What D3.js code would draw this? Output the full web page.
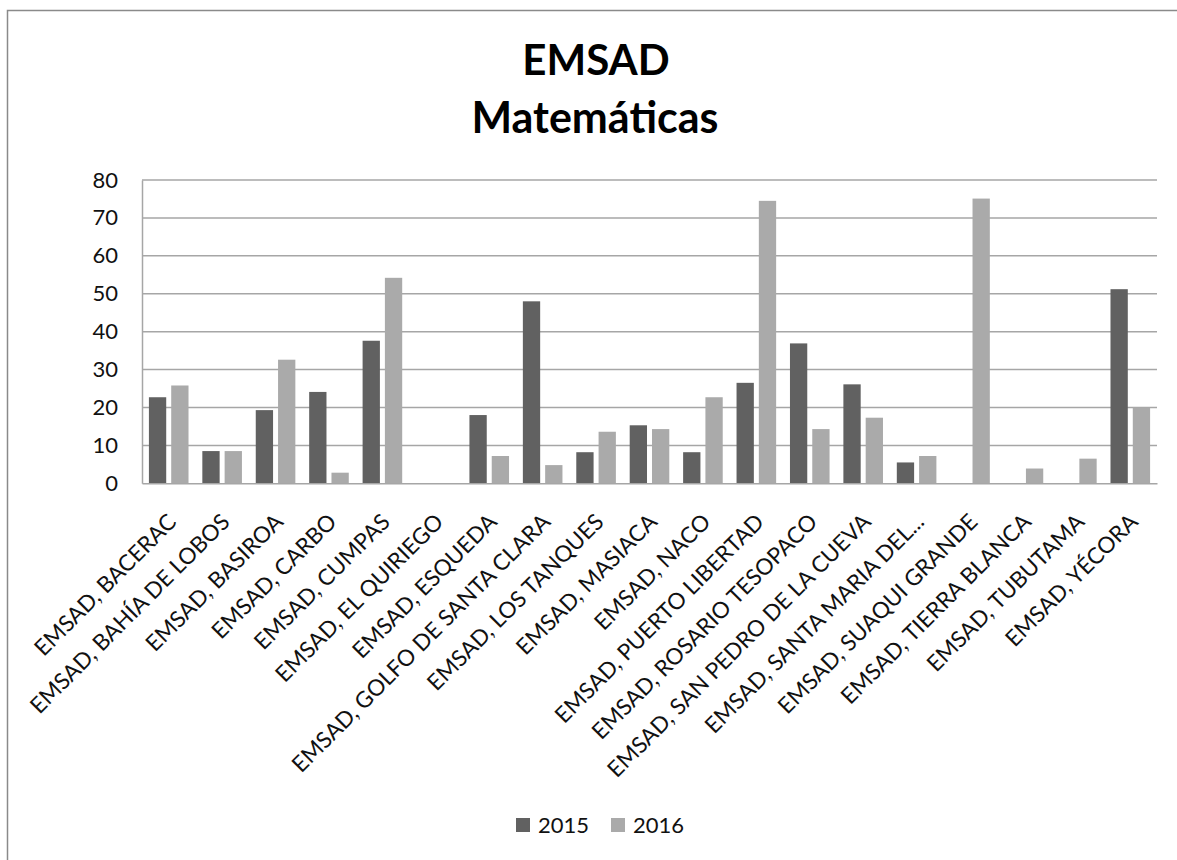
<!DOCTYPE html>
<html>
<head>
<meta charset="utf-8">
<script src="https://cdn.jsdelivr.net/npm/d3@7"></script>
<style>
  html, body { margin: 0; background: #fff; overflow: hidden; }
  svg { display: block; font-family: Lato, "Open Sans", sans-serif; }
</style>
</head>
<body>
<svg width="1177" height="860"></svg>
<script>
var width = 1177;
var height = 860;

// data
var schools = ["EMSAD, BACERAC", "EMSAD, BAHÍA DE LOBOS", "EMSAD, BASIROA", "EMSAD, CARBO",
    "EMSAD, CUMPAS", "EMSAD, EL QUIRIEGO", "EMSAD, ESQUEDA", "EMSAD, GOLFO DE SANTA CLARA",
    "EMSAD, LOS TANQUES", "EMSAD, MASIACA", "EMSAD, NACO", "EMSAD, PUERTO LIBERTAD",
    "EMSAD, ROSARIO TESOPACO", "EMSAD, SAN PEDRO DE LA CUEVA", "EMSAD, SANTA MARIA DEL...",
    "EMSAD, SUAQUI GRANDE", "EMSAD, TIERRA BLANCA", "EMSAD, TUBUTAMA", "EMSAD, YÉCORA"];
var years = ["2015", "2016"];
var values2015 = [22.7, 8.5, 19.3, 24.1, 37.6, 0, 18.0, 48.0, 8.2, 15.3, 8.2, 26.5, 36.9, 26.1, 5.5, 0, 0, 0, 51.2];
var values2016 = [25.8, 8.5, 32.6, 2.8, 54.2, 0, 7.2, 4.8, 13.6, 14.3, 22.7, 74.5, 14.3, 17.3, 7.2, 75.1, 3.9, 6.5, 20.0];
var yTicks = [0, 10, 20, 30, 40, 50, 60, 70, 80];
var colors = { "2015": "#616161", "2016": "#aaaaaa" };

var margin = { left: 142, top: 180 };
var plotW = 1157 - margin.left;
var plotH = 483.3 - margin.top;

var svg = d3.select("svg");

// outer frame: only top and left edges fall inside the picture
svg.append("path")
    .attr("d", "M7.5,870V10.5H1190")
    .attr("fill", "none")
    .attr("stroke", "#8a8a8a")
    .attr("stroke-width", 1.5);

// title
svg.append("text")
    .attr("x", 596)
    .attr("y", 75)
    .attr("text-anchor", "middle")
    .attr("font-size", "42px")
    .attr("font-weight", "bold")
    .text("EMSAD");
svg.append("text")
    .attr("x", 595)
    .attr("y", 133)
    .attr("text-anchor", "middle")
    .attr("font-size", "43px")
    .attr("font-weight", "bold")
    .text("Matemáticas");

var g = svg.append("g")
    .attr("transform", "translate(" + margin.left + "," + margin.top + ")");

var x0 = d3.scaleBand().domain(schools).range([0, plotW]).padding(0);
var x1 = d3.scaleBand().domain(years).range([0, x0.bandwidth()])
    .paddingInner(0.224).paddingOuter(0.31);
var y = d3.scaleLinear().domain([0, 80]).range([plotH, 0]);

// gridlines
g.append("g")
    .selectAll("line")
    .data(yTicks.slice(1))
    .enter()
    .append("line")
    .attr("x1", 0)
    .attr("x2", plotW)
    .attr("y1", function(d) { return y(d); })
    .attr("y2", function(d) { return y(d); })
    .attr("stroke", "#a6a6a6")
    .attr("stroke-width", 1.5);

// y axis
var yAxis = d3.axisLeft(y).tickValues(yTicks).tickSize(0).tickPadding(24);
var yg = g.append("g").call(yAxis);
yg.select(".domain").attr("stroke", "#a6a6a6").attr("stroke-width", 1.5);
yg.selectAll("text")
    .attr("font-size", "22px")
    .attr("font-family", "Lato, sans-serif")
    .attr("fill", "#111");

// bars
var rows = schools.map(function(s, i) {
    return { school: s, vals: [
        { year: "2015", value: values2015[i] },
        { year: "2016", value: values2016[i] }
    ] };
});

var groups = g.selectAll(".school")
    .data(rows)
    .enter()
    .append("g")
    .attr("class", "school")
    .attr("transform", function(d) { return "translate(" + x0(d.school) + ",0)"; });

groups.selectAll("rect")
    .data(function(d) { return d.vals.filter(function(v) { return v.value > 0; }); })
    .enter()
    .append("rect")
    .attr("x", function(d) { return x1(d.year); })
    .attr("width", x1.bandwidth())
    .attr("y", function(d) { return y(d.value); })
    .attr("height", function(d) { return plotH - y(d.value); })
    .attr("fill", function(d) { return colors[d.year]; });

// x axis
var xAxis = d3.axisBottom(x0).tickSize(0).tickPadding(0);
var xg = g.append("g")
    .attr("transform", "translate(0," + plotH + ")")
    .call(xAxis);
xg.select(".domain").attr("stroke", "#a6a6a6").attr("stroke-width", 1.5);
xg.selectAll("text")
    .attr("font-size", "22.5px")
    .attr("font-family", "Lato, sans-serif")
    .attr("fill", "#111")
    .attr("text-anchor", "end")
    .attr("dy", 0)
    .attr("transform", "translate(9,40) rotate(-45)");

// legend
var legend = svg.append("g").attr("transform", "translate(516,818)");
var items = legend.selectAll("g")
    .data(years)
    .enter()
    .append("g")
    .attr("transform", function(d, i) { return "translate(" + (i * 95) + ",0)"; });
items.append("rect")
    .attr("width", 14)
    .attr("height", 14)
    .attr("fill", function(d) { return colors[d]; });
items.append("text")
    .attr("x", 22)
    .attr("y", 15)
    .attr("font-size", "22px")
    .attr("fill", "#111")
    .text(function(d) { return d; });
</script>
</body>
</html>
